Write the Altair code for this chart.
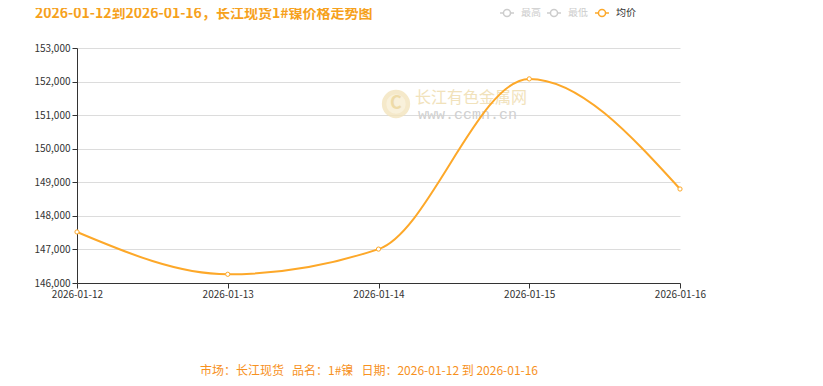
import altair as alt
import pandas as pd

dates = ["2026-01-12", "2026-01-13", "2026-01-14", "2026-01-15", "2026-01-16"]
avg_price = [147520, 146260, 147010, 152080, 148800]
y_ticks = [146000, 147000, 148000, 149000, 150000, 151000, 152000, 153000]

title_text = "2026-01-12到2026-01-16，长江现货1#镍价格走势图"
footer_text = "市场：长江现货\u00a0\u00a0\u00a0品名：1#镍\u00a0\u00a0\u00a0日期：2026-01-12\u00a0到\u00a02026-01-16"
legend_names = ["最高", "最低", "均价"]

LINE = "#FDA829"
FONT = "Noto Sans CJK SC"

df = pd.DataFrame({"date": dates, "price": avg_price})

x_enc = alt.X("date:O", scale=alt.Scale(type="point", padding=0),
              axis=alt.Axis(title=None, labelAngle=0, grid=False, domainColor="#333",
                            tickColor="#333", tickSize=5, labelColor="#333",
                            labelFontSize=10, labelFont=FONT, labelPadding=1,
                            labelOverlap=False))
y_enc = alt.Y("price:Q", scale=alt.Scale(domain=[146000, 153000], nice=False, zero=False),
              axis=alt.Axis(title=None, values=y_ticks, tickCount=8, format=",d", grid=True,
                            gridColor="#dcdcdc", domainColor="#333", tickColor="#333",
                            tickSize=5, labelColor="#333", labelFontSize=10,
                            labelFont=FONT, labelPadding=2, labelOverlap=False))

base = alt.Chart(df).encode(x=x_enc, y=y_enc)

line = base.mark_line(color=LINE, strokeWidth=2, interpolate="monotone")
pts = base.mark_point(shape="circle", size=18, filled=True, fill="white", stroke=LINE,
                      strokeWidth=1, opacity=1)

one = pd.DataFrame({"k": [0]})
oc = alt.Chart(one)

# watermark
logo = oc.mark_point(shape="circle", size=800, filled=True, color="#f3e4bd", opacity=0.8).encode(
    x=alt.value(319), y=alt.value(56))
logo_in = oc.mark_point(shape="circle", size=380, filled=True, color="#fbf4e2").encode(
    x=alt.value(319), y=alt.value(56))
logo_c = oc.mark_text(text="C", font=FONT, fontSize=18, fontWeight="bold", color="#eedba8").encode(
    x=alt.value(319), y=alt.value(56))
wm1 = oc.mark_text(text="长江有色金属网", font=FONT, fontSize=16, color="#f1e2bb", align="left",
                   baseline="middle").encode(x=alt.value(338), y=alt.value(50))
wm2 = oc.mark_text(text="www.ccmn.cn", font="Liberation Mono", fontSize=15, color="#d0d0d0",
                   align="left", baseline="middle").encode(x=alt.value(341), y=alt.value(66))

# title and footer
title = oc.mark_text(text=title_text, font=FONT, fontSize=14, fontWeight="bold", color="#F6A11C",
                     align="left", baseline="middle").encode(x=alt.value(-42), y=alt.value(-34))
footer = oc.mark_text(text=footer_text, font=FONT, fontSize=12, color="#F7911E",
                      align="center", baseline="middle").encode(x=alt.value(292), y=alt.value(323))

# legend
leg_layers = []
leg_x = [423, 470, 518]
leg_cols = ["#cccccc", "#cccccc", LINE]
txt_cols = ["#cccccc", "#cccccc", "#333333"]
for name, lx, c, tc in zip(legend_names, leg_x, leg_cols, txt_cols):
    leg_layers.append(oc.mark_rule(color=c, strokeWidth=1.5).encode(
        x=alt.value(lx), x2=alt.value(lx + 14), y=alt.value(-35)))
    leg_layers.append(oc.mark_point(shape="circle", size=50, filled=True, fill="white", stroke=c,
                                    strokeWidth=1.5, opacity=1).encode(
        x=alt.value(lx + 7), y=alt.value(-35)))
    leg_layers.append(oc.mark_text(text=name, font=FONT, fontSize=10, color=tc, align="left",
                                   baseline="middle").encode(x=alt.value(lx + 21), y=alt.value(-35)))

chart = alt.layer(logo, logo_in, logo_c, wm1, wm2, line, pts, title, footer, *leg_layers).properties(
    width=603, height=235,
    autosize=alt.AutoSizeParams(type="none"),
    padding={"left": 69, "top": 40, "right": 135, "bottom": 95},
).configure(background="white").configure_view(strokeWidth=0, stroke="transparent")

chart.save("out.html", embed_options={"renderer": "svg", "actions": False})
